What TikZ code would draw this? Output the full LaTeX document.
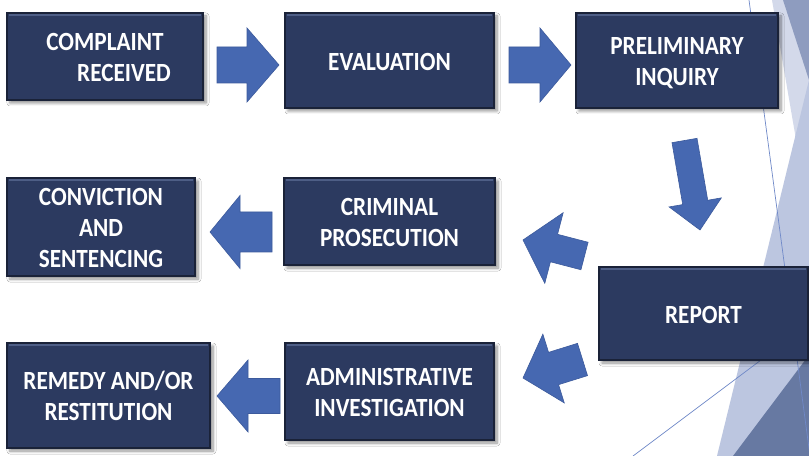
\documentclass[tikz,border=0pt]{standalone}
\usepackage{fontspec}
\setmainfont{Carlito}
\usetikzlibrary{calc,shadows.blur}
\definecolor{boxfill}{HTML}{2C3A60}
\definecolor{boxedge}{HTML}{1A2238}
\definecolor{boxhi}{HTML}{4E5E86}
\definecolor{arrowfill}{HTML}{4668B1}
\definecolor{arrowedge}{HTML}{3C5A9C}
\definecolor{decoA}{HTML}{D3D9EA}
\definecolor{decoB}{HTML}{BCC6E0}
\definecolor{decoC}{HTML}{8E9CBF}
\definecolor{decoD}{HTML}{6779A2}
\definecolor{decoline}{HTML}{7089C8}
\newcommand{\lbl}[1]{\raisebox{-3.5bp}[\height][\depth]{\scalebox{1}[1.13]{\begin{tabular}{@{}c@{}}#1\end{tabular}}}}
\newcommand{\blockarrow}[5]{%
  \coordinate (ba-B) at ($(#2)!#5!(#1)$);
  \filldraw[arrowstyle] ($(#1)!#3!90:(#2)$) -- ($(ba-B)!#3!90:(#2)$) -- ($(ba-B)!#4!90:(#2)$) -- (#2)
    -- ($(ba-B)!#4!-90:(#2)$) -- ($(ba-B)!#3!-90:(#2)$) -- ($(#1)!#3!-90:(#2)$) -- cycle;
}
\tikzset{
  box/.style={rectangle, fill=boxfill, draw=boxedge, line width=1.2bp, inner sep=0pt, outer sep=0pt,
    text=white, font=\bfseries\fontsize{23.3}{27.5}\selectfont,
    blur shadow={shadow xshift=3bp, shadow yshift=-3bp, shadow blur radius=3bp, shadow blur steps=6, shadow opacity=45},
    path picture={\draw[boxhi, line width=1.6bp] ([xshift=2bp,yshift=-2.2bp]path picture bounding box.north west) -- ([xshift=-2bp,yshift=-2.2bp]path picture bounding box.north east);}},
  arrowstyle/.style={fill=arrowfill, draw=arrowedge, line width=0.6bp, line join=miter},
  decoline/.style={draw=decoline, line width=0.7bp}
}
\begin{document}
\begin{tikzpicture}[x=1bp, y=-1bp]
\useasboundingbox (0,0) rectangle (809,456);
\fill[white] (0,0) rectangle (809,456);
% decoration on the right
\fill[decoA] (772,0) -- (809,0) -- (809,215) -- cycle;
\fill[decoB] (809,80) -- (717,456) -- (809,456) -- cycle;
\fill[decoC] (783,0) -- (809,0) -- (809,80) -- cycle;
\fill[decoD] (733,456) -- (809,456) -- (809,355) -- cycle;
\coordinate (l1a) at (749,0);
\coordinate (l1b) at (810,456);
\coordinate (l2a) at (633,456);
\coordinate (l2b) at (809,324);
\draw[decoline] (l1a) -- (l1b);
\draw[decoline] (l2a) -- (l2b);
% block arrows
\coordinate (a1t) at (217,65);     \coordinate (a1p) at (279,65);
\coordinate (a2t) at (509,65);     \coordinate (a2p) at (571,65);
\coordinate (a3t) at (684.5,140.5);\coordinate (a3p) at (700,230);
\coordinate (a4t) at (584.5,256);  \coordinate (a4p) at (523,240);
\coordinate (a5t) at (582.5,359.5);\coordinate (a5p) at (523,378);
\coordinate (a6t) at (272,232);    \coordinate (a6p) at (210,232);
\coordinate (a7t) at (280,396);    \coordinate (a7p) at (217,396);
\blockarrow{a1t}{a1p}{18bp}{37bp}{32bp}
\blockarrow{a2t}{a2p}{18bp}{37bp}{31bp}
\blockarrow{a3t}{a3p}{12.7bp}{26.5bp}{28bp}
\blockarrow{a4t}{a4p}{14.2bp}{36.5bp}{32bp}
\blockarrow{a5t}{a5p}{16.9bp}{36bp}{32bp}
\blockarrow{a6t}{a6p}{20bp}{36.5bp}{30bp}
\blockarrow{a7t}{a7p}{17.5bp}{36bp}{31bp}
% boxes
\node[box, minimum width=196bp, minimum height=87bp] (c1) at (105,56.5) {\lbl{COMPLAINT\\\hspace*{38bp}RECEIVED}};
\node[box, minimum width=209bp, minimum height=95bp] (c2) at (389.5,60.5) {\lbl{EVALUATION}};
\node[box, minimum width=202bp, minimum height=95bp] (c3) at (677,60.5) {\lbl{PRELIMINARY\\INQUIRY}};
\node[box, minimum width=188bp, minimum height=98bp] (c4) at (101,227) {\lbl{CONVICTION\\AND\\SENTENCING}};
\node[box, minimum width=211bp, minimum height=87bp] (c5) at (389.5,221.5) {\lbl{CRIMINAL\\PROSECUTION}};
\node[box, minimum width=209bp, minimum height=93bp] (c6) at (703.5,313.5) {\lbl{REPORT}};
\node[box, minimum width=209bp, minimum height=97bp] (c7) at (389.5,391.5) {\lbl{ADMINISTRATIVE\\INVESTIGATION}};
\node[box, minimum width=203bp, minimum height=105bp] (c8) at (108.5,395.5) {\lbl{REMEDY AND/OR\\RESTITUTION}};
\end{tikzpicture}
\end{document}
